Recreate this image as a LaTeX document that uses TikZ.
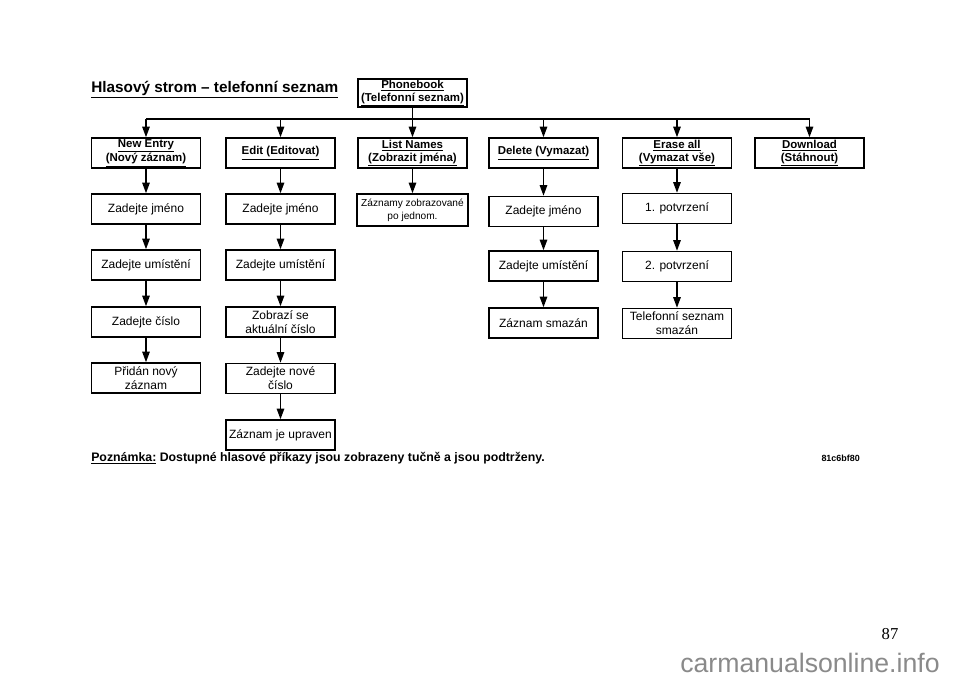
\documentclass[tikz,border=0pt]{standalone}
\usepackage{fontspec}
\setmainfont{Liberation Sans}
\newfontfamily\serifnum{Liberation Serif}
\usetikzlibrary{arrows.meta}
\definecolor{wmgray}{RGB}{138,138,138}
\begin{document}
\begin{tikzpicture}[x=0.75pt,y=-0.75pt,
 bx/.style={draw, line width=1.1pt, minimum width=81.75pt, minimum height=22.5pt, inner sep=0pt, align=center, font=\fontsize{9}{10.5}\selectfont},
 hd/.style={bx, font=\fontsize{8.6}{9.75}\selectfont\bfseries},
 ar/.style={line width=1.1pt, -{Triangle[length=8pt,width=5.6pt]}},
 ln/.style={line width=1.1pt}]
\useasboundingbox (0,0) rectangle (960,678);

\node[anchor=base west, inner sep=0pt] (title) at (91,92) {\fontsize{11.5}{14}\selectfont\bfseries\underline{Hlasový strom – telefonní seznam}};

\node[hd, minimum height=21pt] (pb) at (412.5,93) {\underline{Phonebook}\\\underline{(Telefonní seznam)}};

\node[hd] (ne) at (146,153) {\underline{New Entry}\\\underline{(Nový záznam)}};
\node[hd] (ed) at (280.5,153) {\underline{Edit (Editovat)}};
\node[hd] (ls) at (412.5,153) {\underline{List Names}\\\underline{(Zobrazit jména)}};
\node[hd] (de) at (543.5,153) {\underline{Delete (Vymazat)}};
\node[hd] (ea) at (677,153) {\underline{Erase all}\\\underline{(Vymazat vše)}};
\node[hd] (dl) at (809.5,153) {\underline{Download}\\\underline{(Stáhnout)}};

\coordinate (busL) at (146,119);
\coordinate (busR) at (809.5,119);
\draw[ln] (busL) -- (busR);
\draw[ar] (pb.south) -- (ls.north);
\foreach \n in {ne,ed,de,ea,dl} \draw[ar] (\n.north |- busL) -- (\n.north);

% column 1
\node[bx] (c1a) at (146,209) {Zadejte jméno};
\node[bx] (c1b) at (146,265) {Zadejte umístění};
\node[bx] (c1c) at (146,322) {Zadejte číslo};
\node[bx] (c1d) at (146,378) {Přidán nový\\záznam};
% column 2
\node[bx] (c2a) at (280.5,209) {Zadejte jméno};
\node[bx] (c2b) at (280.5,265) {Zadejte umístění};
\node[bx] (c2c) at (280.5,322) {Zobrazí se\\aktuální číslo};
\node[bx] (c2d) at (280.5,378.5) {Zadejte nové\\číslo};
\node[bx] (c2e) at (280.5,435) {Záznam je upraven};
% column 3
\node[bx, minimum width=83.25pt, minimum height=24pt, font=\fontsize{7.6}{9.5}\selectfont] (c3a) at (412.5,210) {Záznamy zobrazované\\po jednom.};
% column 4
\node[bx] (c4a) at (543.5,211.5) {Zadejte jméno};
\node[bx] (c4b) at (543.5,266) {Zadejte umístění};
\node[bx] (c4c) at (543.5,323) {Záznam smazán};
% column 5
\node[bx] (c5a) at (677,208.5) {1. potvrzení};
\node[bx] (c5b) at (677,266.5) {2. potvrzení};
\node[bx] (c5c) at (677,323.5) {Telefonní seznam\\smazán};

\draw[ar] (ne) -- (c1a);
\draw[ar] (c1a) -- (c1b);
\draw[ar] (c1b) -- (c1c);
\draw[ar] (c1c) -- (c1d);
\draw[ar] (ed) -- (c2a);
\draw[ar] (c2a) -- (c2b);
\draw[ar] (c2b) -- (c2c);
\draw[ar] (c2c) -- (c2d);
\draw[ar] (c2d) -- (c2e);
\draw[ar] (ls) -- (c3a);
\draw[ar] (de) -- (c4a);
\draw[ar] (c4a) -- (c4b);
\draw[ar] (c4b) -- (c4c);
\draw[ar] (ea) -- (c5a);
\draw[ar] (c5a) -- (c5b);
\draw[ar] (c5b) -- (c5c);

\node[anchor=base west, inner sep=0pt] (note) at (91,461) {\fontsize{9.25}{11}\selectfont\bfseries\underline{Poznámka:} Dostupné hlasové příkazy jsou zobrazeny tučně a jsou podtrženy.};
\node[anchor=base east, inner sep=0pt] (code) at (860,461) {\fontsize{6.7}{8}\selectfont\bfseries 81c6bf80};

\node[anchor=base, inner sep=0pt] (page) at (890,639) {\serifnum\fontsize{12.5}{14}\selectfont 87};
\node[anchor=base west, inner sep=0pt, text=wmgray] (wm) at (680,672) {\fontsize{20}{24}\selectfont carmanualsonline.info};
\end{tikzpicture}
\end{document}
